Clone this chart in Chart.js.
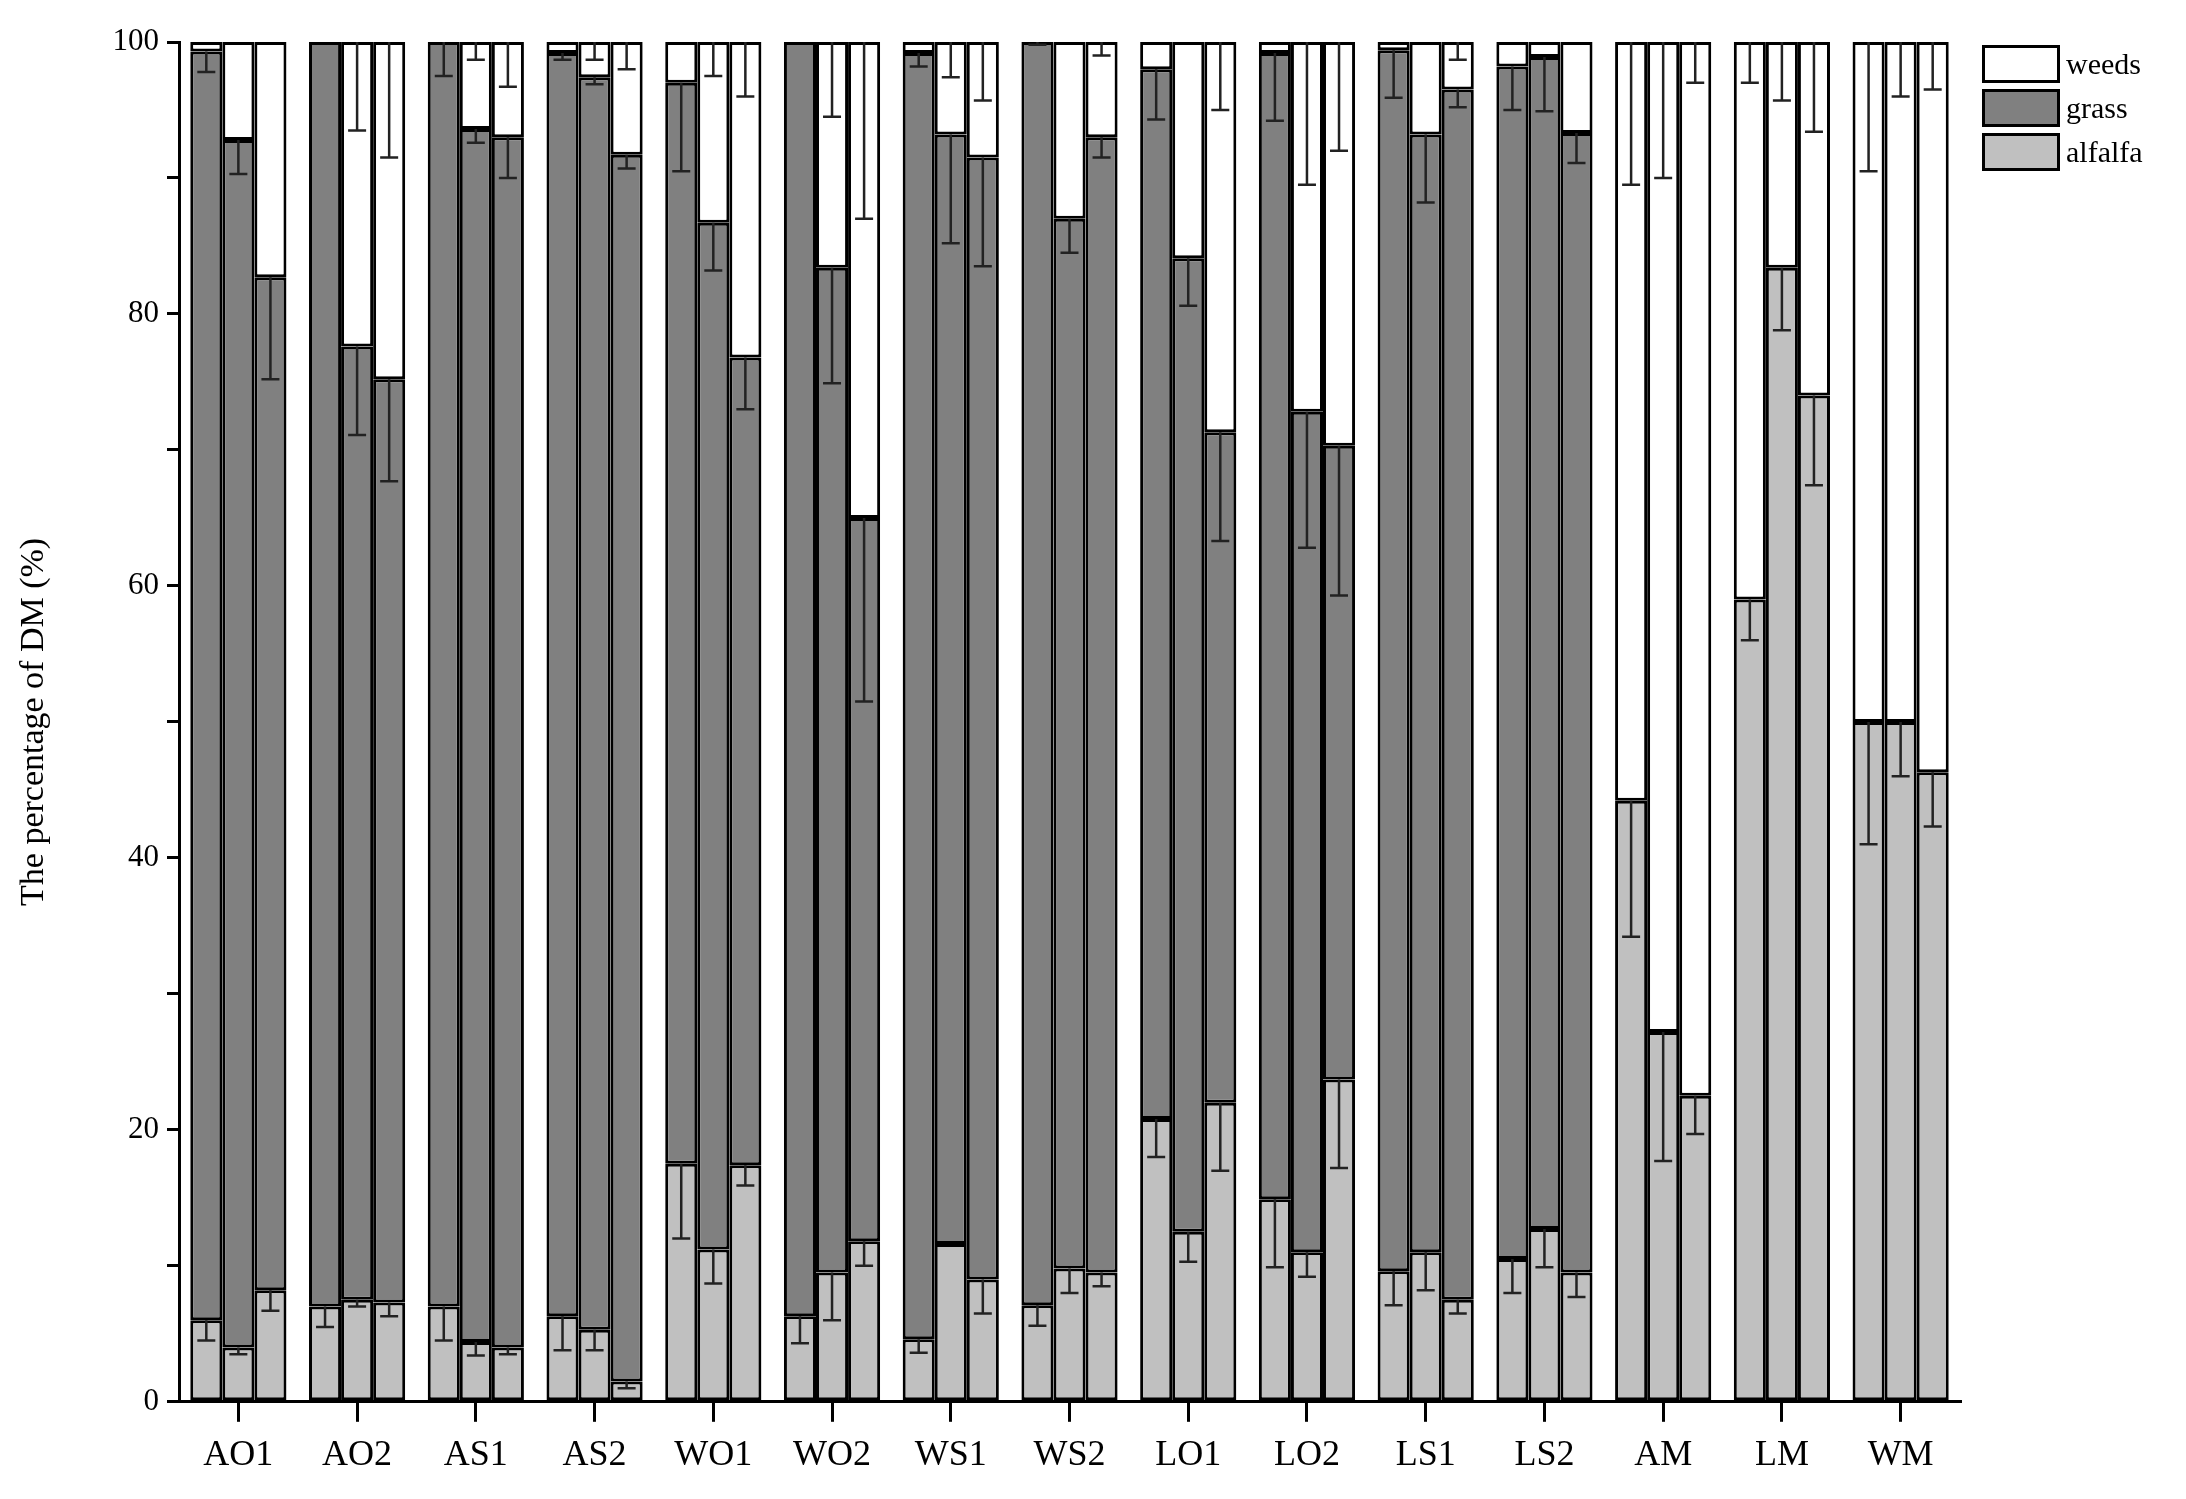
<!DOCTYPE html>
<html><head><meta charset="utf-8">
<script src="https://cdn.jsdelivr.net/npm/chart.js@4"></script>
<style>
body{margin:0;background:#fff;}
#wrap{position:relative;width:2186px;height:1499px;}
#legend{position:absolute;left:1982px;top:42px;font-family:"Liberation Serif";font-size:30px;}
.li{display:flex;align-items:center;height:44px;}
.bx{width:78px;height:38px;border:3px solid #000;box-sizing:border-box;margin-right:6px;}
</style></head><body>
<div id="wrap"><canvas id="c" width="2186" height="1499"></canvas>
<div id="legend">
<div class="li"><div class="bx" style="background:#fff"></div>weeds</div>
<div class="li"><div class="bx" style="background:#808080"></div>grass</div>
<div class="li"><div class="bx" style="background:#c0c0c0"></div>alfalfa</div>
</div></div>
<script>
const categories=["AO1","AO2","AS1","AS2","WO1","WO2","WS1","WS2","LO1","LO2","LS1","LS2","AM","LM","WM"];
const yTicks=[0,20,40,60,80,100];
// three bars per treatment: index 0,1,2
const alfalfa1=[6,7,7,6.3,17.5,6.3,4.6,7.1,20.8,14.9,9.6,10.5,44.2,59,50];
const alfalfa2=[4,7.5,4.4,5.3,11.2,9.5,11.6,9.8,12.5,11,11,12.7,27.2,83.4,50];
const alfalfa3=[8.2,7.3,4,1.5,17.4,11.8,9,9.5,22,23.7,7.5,9.5,22.5,74,46.3];
const grass1=[93.3,93,93,92.9,79.5,93.7,94.6,92.9,77.2,84.3,89.8,87.7,0,0,0];
const grass2=[88.8,70.1,89.2,92.1,75.5,73.9,81.6,77.2,71.6,61.8,82.2,86.2,0,0,0];
const grass3=[74.5,67.9,89,90.2,59.4,53.2,82.5,83.5,49.3,46.6,89,83.8,0,0,0];
const alfErr1=[1.5,1.5,2.5,2.5,5.5,2,1,1.5,2.8,5,2.5,2.5,10,3,9];
const alfErr2=[0.5,0.5,1,1.5,2.5,3.5,0,1.8,2.2,1.8,2.8,2.8,9.5,4.6,4];
const alfErr3=[1.5,1,0.5,0.5,1.5,1.8,2.5,1,5,6.5,1,1.8,2.8,6.6,4];
const grassErr1=[1.5,0,2.5,0.5,6.5,0,1,0.2,3.7,5,3.5,3.2,0,0,0];
const grassErr2=[2.5,6.5,1,0.5,3.5,8.5,8,2.5,3.5,10,5,4,0,0,0];
const grassErr3=[7.5,7.5,3,1,3.8,13.5,8,1.5,8,11,1.3,2.2,0,0,0];
const weedErr1=[0,0,0,0,0,0,0,0,0,0,0,0,10.5,3,9.5];
const weedErr2=[0,6.5,1.3,1.3,2.5,5.5,2.6,0,0,10.5,0,0,10,4.3,4];
const weedErr3=[0,8.5,3.3,2,4,13,4.3,1,5,8,1.3,0,3,6.6,3.5];

const A=[alfalfa1,alfalfa2,alfalfa3],G=[grass1,grass2,grass3];
const EA=[alfErr1,alfErr2,alfErr3],EG=[grassErr1,grassErr2,grassErr3],EW=[weedErr1,weedErr2,weedErr3];
const datasets=[];
for(let k=0;k<3;k++){
  const w=categories.map((_,i)=>Math.max(0,100-A[k][i]-G[k][i]));
  const common={stack:'s'+k,borderColor:'#000',borderWidth:3,borderSkipped:false,barPercentage:1,categoryPercentage:0.81};
  datasets.push({label:'alfalfa',data:A[k],backgroundColor:'#c0c0c0',...common,_k:k,_t:'a'});
  datasets.push({label:'grass',data:G[k],backgroundColor:'#808080',...common,_k:k,_t:'g'});
  datasets.push({label:'weeds',data:w,backgroundColor:'#ffffff',...common,_k:k,_t:'w'});
}
const errPlugin={id:'err',afterDatasetsDraw(chart){
  const ctx=chart.ctx,ys=chart.scales.y;
  ctx.save();ctx.strokeStyle='#222';ctx.lineWidth=2.5;
  chart.data.datasets.forEach((ds,di)=>{
    const meta=chart.getDatasetMeta(di);const k=ds._k;
    ds.data.forEach((v,i)=>{
      let top,err;
      if(ds._t==='a'){top=A[k][i];err=EA[k][i];}
      else if(ds._t==='g'){if(G[k][i]<=0)return;top=A[k][i]+G[k][i];err=EG[k][i];}
      else {top=100;err=EW[k][i];}
      if(!err)return;
      const x=meta.data[i].x,y1=ys.getPixelForValue(top),y2=ys.getPixelForValue(top-err);
      ctx.beginPath();ctx.moveTo(x,y1);ctx.lineTo(x,y2);ctx.moveTo(x-9,y2);ctx.lineTo(x+9,y2);ctx.stroke();
    });
  });
  ctx.restore();
}};
new Chart(document.getElementById('c'),{
  type:'bar',
  data:{labels:categories,datasets},
  plugins:[errPlugin],
  options:{responsive:false,animation:false,
    layout:{padding:{left:10,right:226,top:42,bottom:10}},
    plugins:{legend:{display:false},tooltip:{enabled:false}},
    scales:{
      x:{stacked:true,grid:{display:true,drawOnChartArea:false,drawTicks:true,tickLength:20,color:'#000',lineWidth:3,offset:false},
         border:{display:true,color:'#000',width:3},
         ticks:{color:'#000',font:{family:'Liberation Serif',size:36},padding:12}},
      y:{stacked:true,min:0,max:100,
         afterBuildTicks(s){s.ticks=[];for(let v=0;v<=100;v+=10)s.ticks.push({value:v});},
         afterFit(s){s.width=169;},
         grid:{display:true,drawOnChartArea:false,drawTicks:true,tickLength:12,color:'#000',lineWidth:3},
         border:{display:true,color:'#000',width:3},
         ticks:{color:'#000',font:{family:'Liberation Serif',size:31},padding:8,
           callback:(v)=>yTicks.includes(v)?String(v):''},
         title:{display:true,text:'The percentage of DM (%)',color:'#000',font:{family:'Liberation Serif',size:34},padding:4}}
    }}
});
</script></body></html>
